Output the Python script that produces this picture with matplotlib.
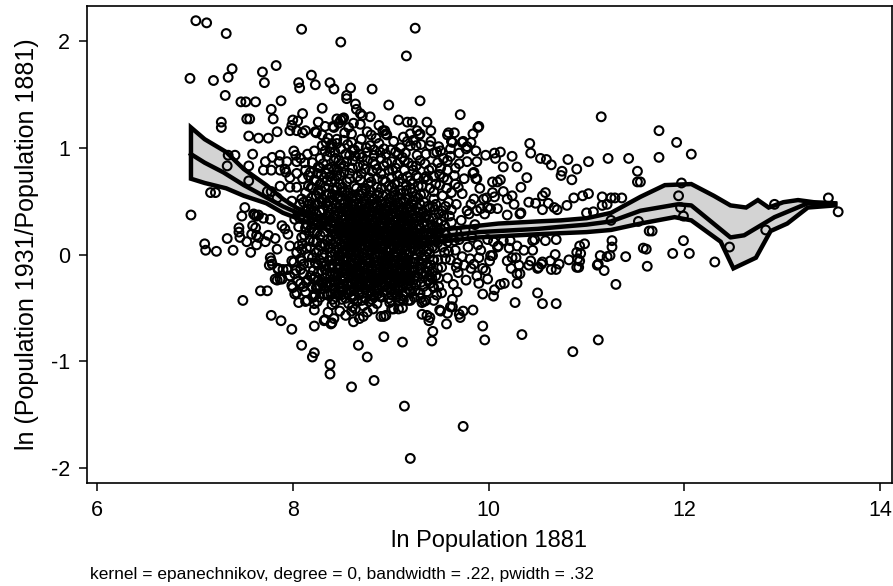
import numpy as np
import matplotlib.pyplot as plt

plt.rcParams['font.family'] = ['Liberation Sans', 'DejaVu Sans']
plt.rcParams['axes.unicode_minus'] = False

# scattered points: (ln pop 1881, ln growth 1881-1931)
pts_outer = [
    (7.01, 2.19), (7.12, 2.17), (7.32, 2.07), (8.09, 2.11), (8.49, 1.99), (9.25, 2.12), (9.16, 1.86),
    (6.95, 1.65), (7.19, 1.63), (7.34, 1.66), (7.38, 1.74), (7.69, 1.71), (7.71, 1.61), (7.83, 1.77),
    (8.06, 1.61), (8.07, 1.56), (8.19, 1.68), (8.23, 1.59), (8.38, 1.61), (8.42, 1.55), (8.59, 1.56),
    (8.81, 1.55), (11.15, 1.29), (11.74, 1.16), (11.92, 1.05), (12.07, 0.94), (11.74, 0.91),
    (9.14, -1.42), (9.74, -1.61), (9.20, -1.91), (8.60, -1.24), (8.83, -1.18), (8.38, -1.12),
    (8.38, -1.03), (8.22, -0.92), (8.20, -0.96), (8.09, -0.85), (8.76, -0.96), (8.67, -0.85),
    (10.34, -0.75), (10.86, -0.91), (11.12, -0.80), (11.30, -0.28), (12.31, -0.07), (12.46, 0.07),
    (12.83, 0.23), (12.92, 0.47), (13.47, 0.53), (13.57, 0.40), (6.96, 0.37),
]

pts_left = [
    (7.31, 1.49), (7.47, 1.43), (7.52, 1.43), (7.62, 1.43), (7.88, 1.44), (7.78, 1.36), (7.80, 1.27),
    (7.27, 1.24), (7.27, 1.19), (7.53, 1.27), (7.56, 1.27), (7.55, 1.11), (7.65, 1.09), (7.75, 1.09),
    (7.84, 1.15), (8.10, 1.32), (8.30, 1.37), (8.05, 1.25), (8.04, 1.16), (8.23, 1.15), (8.26, 1.24),
    (8.13, 1.16), (8.10, 1.14), (8.33, 1.20), (8.41, 1.20), (8.51, 1.27), (8.00, 1.26), (7.99, 1.21),
    (7.97, 1.16), (8.45, 1.27), (8.24, 1.14), (8.36, 1.09), (8.34, 1.05), (8.40, 1.04), (8.45, 1.08),
    (8.30, 1.02), (8.22, 0.97), (8.15, 0.94), (7.34, 0.93), (7.41, 0.93), (7.59, 0.94), (7.55, 0.83),
    (7.33, 0.83), (7.16, 0.58), (7.21, 0.58), (7.48, 0.36), (7.33, 0.15), (7.10, 0.10), (7.55, 0.69),
    (7.70, 0.79), (7.78, 0.79), (7.87, 0.79), (7.74, 0.59), (7.78, 0.59), (7.84, 0.53), (7.61, 0.37),
    (7.65, 0.37), (7.45, 0.25), (7.45, 0.21), (7.59, 0.27), (7.63, 0.18), (7.72, 0.87), (7.79, 0.91),
    (7.87, 0.93), (7.86, 0.87), (8.01, 0.97), (8.03, 0.93), (8.04, 0.87), (8.08, 0.90), (7.94, 0.87),
    (7.92, 0.80), (7.93, 0.77), (7.97, 0.72), (8.04, 0.76), (8.13, 0.79), (8.18, 0.77), (8.25, 0.76),
    (8.10, 0.71), (8.16, 0.74), (8.24, 0.69), (8.32, 0.72), (8.38, 0.73), (8.45, 0.74), (7.87, 0.64),
    (7.97, 0.63), (8.04, 0.63), (8.20, 0.62), (8.27, 0.57), (8.37, 0.57), (8.45, 0.63),
    (7.11, 0.04), (7.22, 0.03), (7.39, 0.04), (7.57, 0.02), (7.46, 0.16), (7.53, 0.12), (7.62, 0.25),
    (7.58, 0.19), (7.65, 0.16), (7.63, 0.09), (7.51, 0.44), (7.60, 0.38), (7.63, 0.36), (7.70, 0.34),
    (7.77, 0.33), (7.72, 0.12), (7.75, 0.18), (7.82, 0.15), (7.84, 0.05), (7.89, 0.27), (7.92, 0.24),
    (7.95, 0.19), (7.77, -0.03), (7.79, -0.09), (7.85, -0.13), (7.82, -0.23), (7.87, -0.23),
    (7.94, -0.14), (7.97, -0.20), (8.03, -0.15), (7.97, 0.08), (8.04, 0.02), (8.09, 0.05), (8.01, -0.07),
    (8.08, -0.04), (7.99, -0.29), (8.04, -0.36), (8.08, -0.27), (8.13, -0.35), (8.23, -0.38),
    (8.15, -0.43), (8.25, -0.44), (8.35, -0.37), (8.42, -0.32), (8.47, -0.38), (8.15, -0.24),
    (8.21, -0.23), (8.25, -0.30), (8.30, -0.27), (8.38, -0.26), (7.99, 0.50), (8.07, 0.47), (8.16, 0.43),
    (8.23, 0.46), (8.30, 0.49), (7.49, -0.43), (7.67, -0.34), (7.74, -0.34), (7.78, -0.57), (7.88, -0.62),
    (7.99, -0.70), (8.22, -0.67), (8.40, -0.64), (8.33, -0.61), (8.36, -0.54), (8.48, -0.53),
    (8.54, -0.57), (8.62, -0.63), (8.22, -0.52), (8.22, -0.46), (8.22, -0.39), (8.06, -0.45),
    (8.13, -0.44), (8.02, -0.37), (8.00, -0.31), (7.84, -0.24), (7.89, -0.23), (7.85, -0.14),
    (7.90, -0.14), (7.95, -0.14), (7.76, -0.10), (7.78, -0.06), (7.99, -0.06), (8.02, -0.18),
    (8.11, -0.30), (8.32, -0.37), (8.39, -0.37), (8.46, -0.37), (8.27, -0.29), (8.21, -0.40),
    (8.32, -0.62), (8.39, -0.65), (8.42, -0.60), (8.61, -0.49), (8.64, -0.51), (8.68, -0.60),
    (8.72, -0.58), (8.72, -0.48), (8.76, -0.54), (8.90, -0.58), (8.95, -0.57), (9.01, -0.51),
    (9.08, -0.51), (9.13, -0.43), (9.18, -0.43), (8.93, -0.77), (9.12, -0.82),
]

pts_mid = [
    (8.55, 1.49), (8.55, 1.46), (8.64, 1.41), (8.65, 1.36), (8.69, 1.32), (8.71, 1.30), (8.79, 1.29),
    (8.98, 1.40), (9.30, 1.44), (9.71, 1.31), (8.42, 1.19), (8.49, 1.26), (8.52, 1.28), (8.47, 1.23),
    (8.57, 1.19), (8.60, 1.13), (8.53, 1.14), (8.52, 1.07), (8.45, 1.04), (8.69, 1.22), (8.80, 1.12),
    (8.94, 1.16), (8.96, 1.12), (9.08, 1.26), (9.17, 1.24), (9.22, 1.24), (9.37, 1.24), (9.27, 1.16),
    (9.20, 1.13), (9.29, 1.12), (9.41, 1.16), (9.17, 1.06), (9.23, 1.07), (9.20, 1.02), (9.31, 1.03),
    (9.40, 1.02), (9.41, 1.06), (9.49, 1.01), (9.51, 0.97), (9.47, 0.96), (9.58, 1.12), (9.65, 1.14),
    (9.63, 1.05), (9.73, 1.05), (9.78, 1.01), (9.82, 1.05), (9.87, 0.97), (9.84, 1.13), (9.89, 1.19),
    (9.58, 0.88), (9.61, 0.92), (9.70, 0.85), (9.78, 0.87), (9.88, 0.87), (9.85, 0.77), (9.88, 0.71),
    (9.58, 0.79), (9.66, 0.81), (9.42, 0.81), (9.51, 0.81), (9.54, 0.90), (9.30, 0.88), (9.39, 0.79),
    (9.36, 0.73), (9.22, 0.83), (9.23, 0.79), (9.26, 0.74), (9.08, 0.94), (9.12, 0.91), (9.14, 0.88),
    (9.01, 0.87), (9.07, 0.85), (8.88, 1.04), (8.89, 0.96), (8.83, 0.93), (8.76, 0.96), (8.71, 0.91),
    (8.76, 0.88), (8.67, 1.01), (8.61, 0.98), (8.54, 0.94), (8.49, 0.99), (8.43, 0.96), (8.42, 0.88),
    (8.49, 0.85), (8.55, 0.87), (8.61, 0.81), (8.67, 0.82), (8.74, 0.80), (8.81, 0.78), (8.86, 0.80),
    (8.93, 0.83), (8.98, 0.79), (9.01, 0.72), (9.07, 0.74), (9.12, 0.71), (9.17, 0.73), (9.28, 0.72),
    (9.34, 0.71), (9.44, 0.73), (9.54, 0.72), (9.65, 0.74), (9.75, 0.71), (8.92, 1.16), (8.95, 1.13),
    (9.30, 1.13), (9.59, 1.14), (9.62, 1.06), (9.74, 1.06), (9.90, 1.20), (9.77, 0.99), (9.61, 0.99),
]

pts_right = [
    (9.97, 0.93), (10.06, 0.95), (10.12, 0.96), (10.07, 0.90), (10.24, 0.92), (10.15, 0.82),
    (10.29, 0.82), (10.42, 1.04), (10.43, 0.95), (10.53, 0.90), (10.59, 0.89), (10.64, 0.84),
    (10.81, 0.89), (11.02, 0.87), (11.22, 0.90), (11.43, 0.90), (10.75, 0.78), (10.74, 0.74),
    (10.90, 0.80), (10.85, 0.70), (11.52, 0.78), (11.52, 0.68), (10.39, 0.72), (10.33, 0.63),
    (9.84, 0.76), (9.87, 0.71), (9.91, 0.62), (10.04, 0.68), (10.09, 0.68), (10.12, 0.70), (10.04, 0.58),
    (10.06, 0.54), (10.15, 0.59), (10.19, 0.52), (10.26, 0.47), (10.24, 0.55), (9.95, 0.52), (9.99, 0.44),
    (9.85, 0.52), (9.82, 0.47), (9.88, 0.41), (9.78, 0.41), (9.98, 0.53), (10.33, 0.39), (10.41, 0.49),
    (10.48, 0.48), (10.55, 0.55), (10.58, 0.58), (10.61, 0.48), (10.55, 0.42), (10.67, 0.44),
    (10.70, 0.42), (10.80, 0.46), (10.87, 0.53), (10.96, 0.55), (11.02, 0.57), (11.16, 0.54),
    (11.16, 0.46), (11.00, 0.39), (11.07, 0.40), (11.21, 0.47), (11.25, 0.53), (11.29, 0.53),
    (11.36, 0.53), (11.25, 0.32), (11.53, 0.31), (11.67, 0.22), (11.26, 0.13), (10.02, 0.43),
    (10.09, 0.43), (9.92, 0.43), (9.96, 0.38), (10.19, 0.37), (10.32, 0.38),
    (10.69, 0.14), (10.58, 0.13), (10.45, 0.13), (10.47, 0.14), (10.36, 0.04), (10.45, 0.04),
    (10.22, 0.13), (10.21, 0.06), (10.29, 0.08), (10.19, -0.06), (10.28, -0.03), (10.31, -0.10),
    (10.29, -0.18), (10.43, -0.06), (10.51, -0.12), (10.55, -0.07), (10.63, -0.06), (10.72, -0.09),
    (10.82, -0.05), (10.91, -0.04), (10.94, 0.01), (10.98, 0.10), (10.93, 0.08), (10.92, -0.12),
    (11.11, -0.10), (11.18, -0.15), (11.14, -0.01), (11.21, -0.02), (9.99, 0.14), (10.05, 0.12),
    (10.09, 0.07), (10.15, 0.13), (10.04, -0.01), (10.01, -0.06), (9.92, 0.04), (9.90, -0.03),
    (9.85, -0.09), (9.97, -0.15), (9.82, -0.13), (9.75, -0.10), (11.26, 0.07), (11.61, 0.05),
    (11.40, -0.02), (11.24, -0.01), (11.12, -0.09), (10.90, 0.02), (10.93, -0.06), (10.90, -0.12),
    (10.68, 0.00), (10.64, -0.14), (10.69, -0.14), (10.54, -0.09), (10.50, -0.13), (10.41, -0.10),
    (10.24, -0.03), (10.23, -0.13), (10.32, -0.18), (10.29, -0.27), (10.50, -0.36), (10.55, -0.46),
    (10.69, -0.46), (10.27, -0.45), (10.16, -0.27), (10.12, -0.28), (10.06, -0.33), (10.05, -0.39),
    (9.94, -0.37), (9.99, -0.23), (10.10, 0.08), (10.02, -0.01), (9.94, -0.13), (9.90, -0.27),
    (9.84, -0.52), (9.94, -0.67), (9.96, -0.80), (9.74, -0.53), (9.71, -0.59), (9.57, -0.65),
    (9.58, -0.55), (9.50, -0.52), (9.43, -0.72), (9.42, -0.81), (9.39, -0.62), (9.32, -0.56),
    (9.40, -0.59), (9.37, -0.57), (9.32, -0.45), (9.36, -0.43), (9.44, -0.43), (9.47, -0.38),
    (9.51, -0.53), (9.63, -0.49), (9.70, -0.56), (9.61, -0.49), (9.63, -0.42), (9.68, -0.35),
    (9.67, -0.12), (9.34, -0.44), (9.20, -0.43), (9.03, -0.51), (8.93, -0.58),
    (11.55, 0.68), (11.97, 0.67), (11.94, 0.55), (11.96, 0.44), (11.99, 0.36), (11.64, 0.22),
    (11.99, 0.13), (11.58, 0.06), (11.88, 0.01), (12.05, 0.01), (11.62, -0.11),
]

pts_core = [
    (8.31, 0.42), (8.36, 0.35), (8.41, 0.51), (8.44, 0.28), (8.48, 0.39), (8.52, 0.47), (8.55, 0.22), (8.58, 0.33), (8.61, 0.55), (8.64, 0.18),
    (8.67, 0.41), (8.70, 0.29), (8.73, 0.50), (8.76, 0.12), (8.79, 0.36), (8.82, 0.45), (8.85, 0.24), (8.88, 0.58), (8.91, 0.15), (8.94, 0.38),
    (8.97, 0.27), (9.00, 0.49), (9.03, 0.08), (9.06, 0.33), (9.09, 0.44), (9.12, 0.19), (9.15, 0.52), (9.18, 0.25), (9.21, 0.40), (9.24, 0.11),
    (9.27, 0.31), (9.30, 0.47), (9.33, 0.21), (9.36, 0.36), (9.39, 0.05), (9.42, 0.28), (9.45, 0.42), (8.28, 0.18), (8.33, 0.09), (8.38, 0.24),
    (8.43, 0.02), (8.46, 0.15), (8.51, -0.05), (8.54, 0.08), (8.57, -0.12), (8.60, 0.04), (8.63, -0.08), (8.66, 0.10), (8.69, -0.15), (8.72, 0.01),
    (8.75, -0.06), (8.78, 0.07), (8.81, -0.19), (8.84, -0.02), (8.87, 0.05), (8.90, -0.11), (8.93, 0.00), (8.96, -0.22), (8.99, -0.04), (9.02, -0.14),
    (9.05, 0.02), (9.08, -0.09), (9.11, -0.25), (9.14, -0.03), (9.17, -0.17), (9.20, 0.03), (9.23, -0.12), (9.26, -0.28), (9.29, -0.06), (9.32, -0.18),
    (9.35, -0.02), (9.38, -0.24), (9.41, -0.10), (9.44, -0.31), (8.30, -0.08), (8.35, -0.18), (8.39, -0.02), (8.42, -0.26), (8.47, -0.13), (8.50, -0.31),
    (8.53, -0.21), (8.56, -0.36), (8.59, -0.27), (8.62, -0.33), (8.65, -0.24), (8.68, -0.38), (8.71, -0.29), (8.74, -0.20), (8.77, -0.34), (8.80, -0.27),
    (8.83, -0.40), (8.86, -0.31), (8.89, -0.23), (8.92, -0.35), (8.95, -0.29), (8.98, -0.41), (9.01, -0.32), (9.04, -0.24), (9.07, -0.37), (9.10, -0.30),
    (8.295, 0.33), (8.345, 0.48), (8.385, 0.13), (8.425, 0.37), (8.465, 0.55), (8.505, 0.26), (8.535, 0.40), (8.565, 0.11), (8.595, 0.46), (8.625, 0.30),
    (8.655, 0.53), (8.685, 0.22), (8.715, 0.38), (8.745, 0.60), (8.775, 0.25), (8.805, 0.14), (8.835, 0.52), (8.865, 0.34), (8.895, 0.43), (8.925, 0.26),
    (8.955, 0.56), (8.985, 0.14), (9.015, 0.37), (9.045, 0.23), (9.075, 0.54), (9.105, 0.31), (9.135, 0.42), (9.165, 0.08), (9.195, 0.32), (9.225, 0.50),
    (9.255, 0.20), (9.285, 0.39), (9.315, 0.12), (9.345, 0.27), (9.375, 0.45), (9.405, 0.16), (9.435, 0.34), (8.265, 0.04), (8.315, -0.03), (8.365, 0.06),
    (8.405, -0.09), (8.445, 0.07), (8.485, -0.01), (8.525, 0.12), (8.555, -0.03), (8.585, 0.16), (8.615, -0.16), (8.645, 0.02), (8.675, -0.04), (8.705, 0.14),
    (8.735, -0.11), (8.765, 0.03), (8.795, -0.07), (8.825, 0.09), (8.855, -0.14), (8.885, 0.01), (8.915, -0.06), (8.945, 0.09), (8.975, -0.13), (9.005, 0.04),
    (9.035, -0.05), (9.065, 0.11), (9.095, -0.16), (9.125, 0.06), (9.155, -0.08), (9.185, -0.21), (9.215, 0.07), (9.245, -0.04), (9.275, 0.13), (9.305, -0.13),
    (9.335, 0.06), (9.365, -0.08), (9.395, 0.01), (9.425, -0.16), (8.325, -0.22), (8.375, -0.12), (8.415, -0.32), (8.455, -0.20), (8.495, -0.38), (8.525, -0.15),
    (8.565, -0.26), (8.595, -0.19), (8.625, -0.42), (8.655, -0.30), (8.685, -0.22), (8.715, -0.36), (8.745, -0.26), (8.775, -0.18), (8.805, -0.35), (8.835, -0.25),
    (8.865, -0.37), (8.895, -0.28), (8.925, -0.19), (8.955, -0.34), (8.985, -0.25), (9.015, -0.20), (9.045, -0.33), (9.085, -0.43), (9.115, -0.22), (9.145, -0.35),
]

pts_dense = [
    (8.42, 0.31), (8.45, 0.19), (8.48, 0.44), (8.51, 0.08), (8.54, 0.34), (8.57, 0.26), (8.60, 0.12), (8.63, 0.39), (8.66, 0.21), (8.69, 0.06),
    (8.72, 0.33), (8.75, 0.43), (8.78, 0.17), (8.81, 0.27), (8.84, 0.38), (8.87, 0.11), (8.90, 0.30), (8.93, 0.20), (8.96, 0.41), (8.99, 0.06),
    (9.02, 0.28), (9.05, 0.39), (9.08, 0.15), (9.11, 0.35), (9.14, 0.24), (9.17, 0.43), (9.20, 0.13), (9.23, 0.29), (8.44, -0.04), (8.47, 0.05),
    (8.50, 0.17), (8.53, -0.10), (8.56, 0.02), (8.59, -0.07), (8.62, 0.23), (8.65, -0.12), (8.68, 0.15), (8.71, -0.02), (8.74, 0.08), (8.77, -0.14),
    (8.80, 0.03), (8.83, 0.16), (8.86, -0.06), (8.89, 0.07), (8.92, -0.15), (8.95, 0.13), (8.98, -0.02), (9.01, 0.18), (9.04, -0.10), (9.07, 0.05),
    (9.10, -0.05), (9.13, 0.14), (9.16, -0.12), (9.19, 0.09), (9.22, -0.07), (9.25, 0.04), (8.43, -0.17), (8.49, -0.24), (8.55, -0.18), (8.61, -0.28),
    (8.67, -0.19), (8.73, -0.31), (8.79, -0.22), (8.85, -0.27), (8.91, -0.20), (8.97, -0.31), (9.03, -0.19), (9.09, -0.26), (9.15, -0.18), (9.21, -0.29),
    (8.46, 0.36), (8.52, 0.25), (8.58, 0.41), (8.64, 0.29), (8.70, 0.45), (8.76, 0.31), (8.82, 0.21), (8.88, 0.35), (8.94, 0.27), (9.00, 0.37),
    (9.06, 0.20), (9.12, 0.30), (9.18, 0.34), (9.24, 0.22), (8.49, 0.10), (8.55, 0.14), (8.61, 0.07), (8.67, 0.27), (8.73, 0.19), (8.79, 0.09),
    (8.85, 0.17), (8.91, 0.08), (8.97, 0.19), (9.03, 0.13), (9.09, 0.24), (9.15, 0.04), (9.21, 0.17), (8.46, -0.09), (8.52, 0.01), (8.58, -0.15),
    (8.415, 0.22), (8.475, 0.29), (8.535, 0.03), (8.595, 0.31), (8.655, 0.04), (8.715, 0.24), (8.775, 0.37), (8.835, 0.05), (8.895, 0.22), (8.955, 0.03),
    (9.015, 0.25), (9.075, 0.33), (9.135, 0.08), (9.195, 0.27), (9.255, 0.35), (8.445, 0.41), (8.505, 0.37), (8.565, 0.49), (8.625, 0.45), (8.685, 0.36),
    (8.745, 0.47), (8.805, 0.40), (8.865, 0.46), (8.925, 0.38), (8.985, 0.45), (9.045, 0.46), (9.105, 0.41), (9.165, 0.26), (9.225, 0.38), (8.435, -0.26),
    (8.495, -0.17), (8.555, -0.29), (8.615, -0.22), (8.675, -0.33), (8.735, -0.17), (8.795, -0.29), (8.855, -0.20), (8.915, -0.30), (8.975, -0.17), (9.035, -0.27),
    (9.095, -0.13), (9.155, -0.24), (9.215, -0.15), (9.275, -0.21), (9.335, -0.30), (9.395, -0.20), (8.405, 0.10), (8.465, -0.01), (8.525, 0.20), (8.585, 0.05),
    (8.645, 0.14), (8.705, -0.08), (8.765, 0.20), (8.825, -0.04), (8.885, 0.12), (8.945, -0.08), (9.005, 0.10), (9.065, -0.02), (9.125, 0.19), (9.185, 0.00),
    (9.245, 0.15), (9.305, 0.02), (9.365, 0.18), (9.425, 0.07), (8.345, 0.27), (8.355, 0.14), (8.375, 0.39), (8.395, 0.02), (8.335, -0.10), (8.385, -0.20),
    (8.285, 0.27), (8.275, 0.40), (8.305, 0.52), (8.255, -0.10), (8.245, 0.12), (8.265, -0.24), (8.295, -0.15), (8.315, -0.32), (8.355, -0.38), (8.395, -0.29),
    (9.30, 0.25), (9.33, 0.40), (9.36, 0.11), (9.39, 0.33), (9.42, 0.20), (9.45, 0.06), (9.48, 0.30), (9.48, -0.05), (9.50, 0.16), (9.52, 0.41),
    (9.46, -0.20), (9.49, -0.30), (9.52, -0.12), (9.55, 0.02), (9.55, 0.27), (9.58, -0.22), (9.58, 0.12), (9.60, 0.36), (9.61, -0.05), (9.63, 0.22),
    (9.64, -0.28), (9.66, 0.04), (9.67, 0.47), (9.69, -0.17), (9.70, 0.14), (9.72, 0.32), (9.73, -0.02), (9.76, 0.23), (9.77, -0.24), (9.79, 0.07),
    (9.80, 0.38), (9.81, -0.04), (9.83, 0.16), (9.86, 0.28), (9.88, -0.20), (9.89, 0.09), (9.53, 0.55), (9.57, 0.62), (9.62, 0.58), (9.69, 0.63),
    (8.12, 0.18), (8.15, 0.28), (8.18, 0.07), (8.20, 0.35), (8.22, 0.21), (8.17, -0.08), (8.14, 0.41), (8.21, -0.15), (8.24, 0.02), (8.26, 0.31),
    (8.10, 0.10), (8.06, 0.26), (8.08, -0.14), (8.19, 0.53), (8.13, 0.58), (8.26, 0.60), (8.33, 0.63), (8.39, 0.68), (8.36, 0.80), (8.31, 0.85),
    (8.41, 0.61), (8.48, 0.66), (8.53, 0.59), (8.58, 0.71), (8.63, 0.64), (8.69, 0.70), (8.74, 0.62), (8.80, 0.68), (8.86, 0.63), (8.92, 0.70),
    (8.98, 0.64), (9.04, 0.66), (9.10, 0.60), (9.16, 0.65), (9.22, 0.58), (9.28, 0.64), (9.34, 0.57), (9.40, 0.62), (9.46, 0.66), (9.44, 0.52),
    (8.35, 0.92), (8.28, 0.90), (8.58, 0.76), (8.64, 0.92), (8.70, 0.76), (8.82, 0.87), (8.95, 0.94), (9.05, 0.81), (9.18, 0.86), (9.27, 0.93),
    (8.43, -0.45), (8.50, -0.42), (8.57, -0.46), (8.66, -0.44), (8.78, -0.44), (8.86, -0.46), (8.99, -0.45), (9.06, -0.40), (9.24, -0.40), (9.30, -0.36),
]

pts_extra = [
    (8.435, 0.47), (8.485, 0.21), (8.515, 0.43), (8.545, 0.16), (8.575, 0.37), (8.605, 0.25), (8.635, 0.09), (8.665, 0.35), (8.695, 0.13), (8.725, 0.42),
    (8.755, 0.26), (8.785, 0.05), (8.815, 0.33), (8.845, 0.21), (8.875, 0.42), (8.905, 0.05), (8.935, 0.32), (8.965, 0.17), (8.995, 0.30), (9.025, 0.01),
    (9.055, 0.26), (9.085, 0.08), (9.115, 0.22), (9.145, 0.36), (9.175, 0.15), (9.205, 0.44), (9.235, 0.06), (8.455, -0.14), (8.485, -0.30), (8.515, -0.22),
    (8.545, -0.06), (8.575, -0.20), (8.605, -0.10), (8.635, -0.25), (8.665, -0.07), (8.695, -0.28), (8.725, -0.12), (8.755, -0.22), (8.785, -0.30), (8.815, -0.13),
    (8.845, -0.22), (8.875, -0.17), (8.905, -0.26), (8.935, -0.11), (8.965, -0.24), (8.995, -0.16), (9.025, -0.28), (9.055, -0.15), (9.085, -0.21), (9.115, -0.10),
    (9.145, -0.14), (9.175, -0.27), (9.205, -0.20), (9.235, -0.24), (8.62, 0.50), (8.68, 0.56), (8.78, 0.53), (8.92, 0.55), (9.03, 0.55), (9.19, 0.53),
    (8.05, 0.40), (8.02, 0.33), (8.09, 0.52), (8.16, 0.64), (8.22, 0.70), (8.28, 0.66), (8.34, 0.76), (8.40, 0.82), (8.46, 0.79), (8.52, 0.77),
    (8.20, 0.86), (8.26, 0.82), (8.12, 0.86), (8.38, 0.96), (8.58, 0.93), (8.90, 0.90), (9.00, 0.98), (9.36, 0.94), (9.48, 0.86), (9.70, 0.95),
    (8.16, -0.02), (8.19, -0.30), (8.26, -0.17), (8.11, -0.18), (8.05, -0.25), (8.28, -0.40), (8.40, -0.47), (8.60, -0.53), (8.82, -0.51), (9.12, -0.50),
]

pts_more = [
    (8.17, 0.47), (8.21, 0.12), (8.24, 0.38), (8.27, -0.05), (8.29, 0.60), (8.32, 0.21), (8.34, -0.27), (8.37, 0.50), (8.40, 0.17), (8.43, 0.70),
    (8.46, 0.53), (8.49, -0.32), (8.51, 0.63), (8.54, -0.41), (8.57, 0.55), (8.59, 0.19), (8.62, -0.38), (8.65, 0.62), (8.68, 0.44), (8.71, 0.57),
    (8.74, -0.41), (8.77, 0.66), (8.80, 0.50), (8.83, -0.33), (8.86, 0.56), (8.89, -0.39), (8.92, 0.47), (8.95, 0.68), (8.98, 0.52), (9.01, -0.38),
    (9.04, 0.59), (9.07, -0.33), (9.10, 0.49), (9.13, -0.39), (9.16, 0.60), (9.19, -0.33), (9.22, 0.66), (9.25, -0.34), (9.28, 0.53), (9.31, -0.26),
    (9.34, 0.49), (9.37, -0.35), (9.40, 0.44), (9.43, -0.05), (9.46, 0.47), (9.49, 0.22), (9.52, -0.36), (9.54, 0.36), (9.56, -0.04), (9.59, 0.49),
    (8.19, 0.25), (8.23, -0.08), (8.25, 0.47), (8.28, 0.08), (8.31, 0.31), (8.34, 0.56), (8.37, -0.06), (8.40, 0.43), (8.44, 0.60), (8.47, 0.24),
    (8.50, 0.51), (8.53, 0.28), (8.56, 0.58), (8.59, 0.37), (8.62, 0.16), (8.65, 0.47), (8.68, -0.29), (8.71, 0.47), (8.74, 0.29), (8.77, 0.45),
    (8.80, 0.59), (8.83, 0.30), (8.86, 0.71), (8.89, 0.50), (8.92, 0.29), (8.95, 0.48), (8.98, 0.35), (9.01, 0.63), (9.04, 0.31), (9.07, 0.48),
    (9.10, 0.16), (9.13, 0.50), (9.16, 0.33), (9.19, 0.45), (9.22, 0.25), (9.25, 0.54), (9.28, 0.17), (9.31, 0.35), (9.34, 0.14), (9.37, 0.28),
    (8.18, -0.20), (8.24, -0.31), (8.30, 0.00), (8.33, -0.14), (8.36, -0.29), (8.40, -0.12), (8.44, -0.36), (8.48, -0.06), (8.52, -0.28), (8.56, -0.11),
    (8.60, -0.34), (8.64, -0.16), (8.68, -0.05), (8.72, -0.20), (8.76, -0.03), (8.80, -0.38), (8.84, -0.10), (8.88, -0.33), (8.92, -0.06), (8.96, -0.14),
    (9.00, -0.25), (9.04, -0.02), (9.08, -0.31), (9.12, -0.14), (9.16, 0.00), (9.20, -0.24), (9.24, -0.15), (9.28, 0.05), (9.32, -0.09), (9.36, -0.17),
    (9.40, -0.27), (9.44, 0.15), (9.48, 0.11), (9.51, 0.24), (9.53, 0.07), (9.56, 0.19), (9.59, 0.03), (9.62, 0.30), (9.65, 0.13), (9.68, -0.08),
    (8.48, 0.74), (8.55, 0.68), (8.61, 0.88), (8.66, 0.73), (8.72, 0.84), (8.78, 0.72), (8.84, 0.84), (8.90, 0.76), (8.96, 0.86), (9.02, 0.79),
    (9.08, 0.68), (9.14, 0.79), (9.20, 0.69), (9.26, 0.83), (9.32, 0.64), (9.38, 0.70), (9.44, 0.59), (9.50, 0.65), (9.56, 0.45), (9.62, 0.42),
    (8.11, 0.34), (8.14, 0.06), (8.17, 0.22), (8.20, -0.03), (8.23, 0.28), (8.09, -0.06), (8.11, 0.49), (8.18, 0.40), (8.24, 0.55), (8.29, 0.75),
    (8.35, 0.69), (8.42, 0.79), (8.44, 0.90), (8.39, 1.00), (8.52, 0.83), (8.56, 1.03), (8.63, 0.98), (8.70, 1.08), (8.79, 1.02), (8.85, 1.09),
    (9.03, 1.06), (9.10, 1.00), (9.15, 0.95), (9.26, 1.02), (9.35, 0.85), (9.44, 0.95), (9.50, 0.75), (9.58, 0.70), (9.66, 0.66), (9.73, 0.57),
    (8.585, 0.02), (8.615, 0.36), (8.645, -0.19), (8.675, 0.19), (8.705, 0.30), (8.735, 0.05), (8.765, -0.29), (8.795, 0.21), (8.825, 0.40), (8.855, 0.08),
    (8.885, -0.09), (8.915, 0.38), (8.945, -0.19), (8.975, 0.25), (9.005, -0.09), (9.035, 0.35), (9.065, -0.24), (9.095, 0.29), (9.125, -0.30), (9.155, 0.18),
]

pts_center = [
    (8.52, 0.32), (8.57, 0.08), (8.62, 0.42), (8.67, -0.01), (8.72, 0.26), (8.77, -0.25), (8.82, 0.12), (8.87, 0.39), (8.92, -0.02), (8.97, 0.35),
    (9.02, 0.09), (9.07, 0.41), (9.12, -0.03), (9.17, 0.29), (9.22, 0.10), (9.27, 0.44), (9.32, -0.04), (9.37, 0.37), (9.42, -0.22), (9.47, 0.25),
    (8.53, 0.48), (8.58, -0.33), (8.63, 0.26), (8.68, -0.10), (8.73, 0.36), (8.78, -0.08), (8.83, 0.47), (8.88, -0.25), (8.93, 0.43), (8.98, -0.19),
    (9.03, 0.43), (9.08, -0.17), (9.13, 0.32), (9.18, -0.06), (9.23, 0.47), (9.28, -0.14), (9.33, 0.30), (9.38, -0.12), (9.43, 0.45), (9.48, -0.13),
    (8.54, -0.15), (8.59, 0.28), (8.64, -0.04), (8.69, 0.39), (8.74, -0.33), (8.79, 0.28), (8.84, -0.16), (8.89, 0.19), (8.94, -0.28), (8.99, 0.22),
    (9.04, -0.20), (9.09, 0.37), (9.14, -0.21), (9.19, 0.20), (9.24, -0.08), (9.29, 0.27), (9.34, -0.21), (9.39, 0.19), (9.44, -0.05), (9.49, 0.38),
    (8.36, 0.45), (8.38, 0.07), (8.41, -0.18), (8.44, 0.12), (8.47, -0.27), (8.50, 0.40), (8.53, -0.03), (8.56, 0.44), (8.59, -0.18), (8.62, 0.03),
    (8.65, 0.32), (8.68, 0.08), (8.71, 0.17), (8.74, 0.40), (8.77, 0.15), (8.80, -0.12), (8.83, 0.25), (8.86, 0.00), (8.89, 0.26), (8.92, 0.14),
    (8.95, -0.06), (8.98, 0.25), (9.01, -0.07), (9.04, 0.14), (9.07, 0.23), (9.10, 0.08), (9.13, -0.08), (9.16, 0.21), (9.19, -0.10), (9.22, 0.34),
    (9.25, -0.20), (9.28, 0.40), (9.31, 0.08), (9.34, 0.35), (9.37, 0.03), (9.40, 0.25), (9.43, -0.30), (9.46, 0.13), (9.49, -0.22), (9.52, 0.31),
    (8.605, 0.53), (8.705, 0.60), (8.805, 0.55), (8.905, 0.62), (9.005, 0.54), (9.105, 0.57), (9.205, 0.62), (9.305, 0.56), (8.505, 0.58), (8.405, 0.56),
    (8.605, -0.40), (8.705, -0.43), (8.805, -0.42), (8.905, -0.40), (9.005, -0.43), (9.105, -0.41), (9.205, -0.35), (9.305, -0.41), (8.505, -0.35), (8.405, -0.42),
    (8.33, 0.34), (8.31, 0.10), (8.29, -0.26), (8.27, 0.49), (8.25, 0.21), (8.23, -0.21), (8.21, 0.41), (8.19, 0.63), (8.17, 0.13), (8.15, 0.50),
    (8.13, 0.25), (8.11, -0.09), (8.09, 0.16), (8.07, 0.34), (8.06, 0.08), (8.14, -0.26), (8.28, 0.81), (8.33, 0.97), (8.47, 0.88), (8.60, 1.05),
    (8.75, 1.00), (8.83, 0.98), (9.05, 0.96), (9.13, 1.10), (8.68, 0.94), (8.93, 0.99), (8.76, 1.15), (8.62, 1.23), (8.88, 1.21), (8.30, 1.12),
]

# local polynomial smooth and 95% CI
mid_x = [6.96, 7.10, 7.29, 7.50, 7.70, 7.90, 8.10, 8.30, 8.50, 8.70, 8.90, 9.10, 9.30, 9.50, 9.70,
         9.90, 10.10, 10.30, 10.50, 10.74, 11.00, 11.25, 11.55, 11.93, 12.07, 12.47, 12.61, 12.92,
         13.26, 13.54]
mid_y = [0.94, 0.86, 0.77, 0.65, 0.55, 0.45, 0.37, 0.30, 0.24, 0.19, 0.16, 0.15, 0.16, 0.17, 0.19,
         0.21, 0.22, 0.23, 0.24, 0.26, 0.28, 0.31, 0.41, 0.47, 0.46, 0.16, 0.18, 0.35, 0.48, 0.47]
up_x = [6.96, 7.10, 7.32, 7.50, 7.73, 7.90, 8.07, 8.30, 8.50, 8.70, 8.90, 9.10, 9.30, 9.50, 9.70,
        9.90, 10.10, 10.30, 10.50, 10.74, 11.00, 11.25, 11.55, 11.80, 12.07, 12.30, 12.47, 12.63,
        12.75, 12.86, 13.01, 13.16, 13.32, 13.54]
up_y = [1.19, 1.08, 0.96, 0.80, 0.65, 0.52, 0.42, 0.35, 0.29, 0.24, 0.21, 0.20, 0.21, 0.23, 0.25,
        0.27, 0.29, 0.30, 0.31, 0.32, 0.34, 0.39, 0.54, 0.65, 0.66, 0.55, 0.46, 0.44, 0.51, 0.44,
        0.49, 0.51, 0.49, 0.48]
lo_x = [6.96, 7.10, 7.32, 7.50, 7.73, 7.90, 8.10, 8.30, 8.50, 8.70, 8.90, 9.10, 9.30, 9.50, 9.70,
        9.90, 10.10, 10.30, 10.50, 10.74, 11.00, 11.25, 11.55, 11.90, 12.07, 12.37, 12.50, 12.73,
        12.88, 13.05, 13.26, 13.54]
lo_y = [0.71, 0.67, 0.62, 0.55, 0.48, 0.39, 0.32, 0.25, 0.19, 0.14, 0.11, 0.10, 0.11, 0.12, 0.14,
        0.16, 0.17, 0.18, 0.19, 0.20, 0.21, 0.23, 0.29, 0.35, 0.32, 0.12, -0.13, -0.03, 0.22, 0.29,
        0.44, 0.46]

pts = np.array(pts_outer + pts_left + pts_mid + pts_right + pts_core + pts_dense
               + pts_extra + pts_more + pts_center)

fig = plt.figure(figsize=(8.93, 5.86), dpi=100)
ax = fig.add_axes([0.0974, 0.1758, 0.9015, 0.8140])

# CI band as closed polygon: upper edge then lower edge reversed
band_x = up_x + lo_x[::-1]
band_y = up_y + lo_y[::-1]
ax.fill(band_x, band_y, facecolor='#d3d3d3', edgecolor='black', linewidth=3.2, zorder=1)
ax.plot(mid_x, mid_y, color='black', linewidth=3.2, zorder=2)

# hollow circles
ax.scatter(pts[:, 0], pts[:, 1], s=40, facecolors='none', edgecolors='black',
           linewidths=1.5, zorder=3)

ax.set_xlim(5.898, 14.12)
ax.set_ylim(-2.14, 2.328)
ax.set_xticks([6, 8, 10, 12, 14])
ax.set_yticks([-2, -1, 0, 1, 2])
ax.tick_params(direction='out', length=6, width=1.1, labelsize=15.5, pad=6)
for s in ax.spines.values():
    s.set_linewidth(1.2)

ax.set_xlabel("ln Population 1881", fontsize=17, labelpad=7)
ax.set_ylabel("ln (Population 1931/Population 1881)", fontsize=18, labelpad=9)
fig.text(90 / 893, 1 - 574 / 586, "kernel = epanechnikov, degree = 0, bandwidth = .22, pwidth = .32",
         fontsize=12.5, va='center', ha='left')

fig.savefig('out.png', dpi=100)
